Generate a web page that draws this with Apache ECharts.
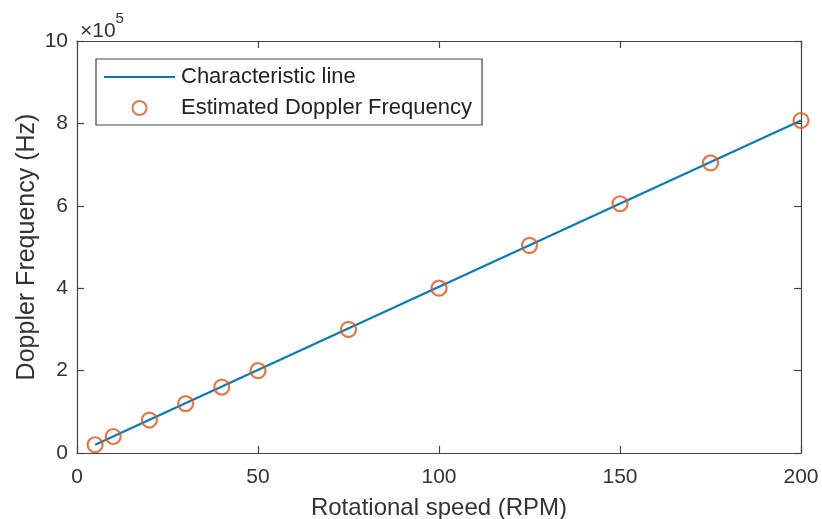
<!DOCTYPE html>
<html><head><meta charset="utf-8">
<script src="https://cdn.jsdelivr.net/npm/echarts@6/dist/echarts.min.js"></script>
<style>html,body{margin:0;padding:0;background:#fff}#c{width:822px;height:519px}</style>
</head><body><div id="c"></div>
<script>
const rpm = [5, 10, 20, 30, 40, 50, 75, 100, 125, 150, 175, 200];
const estimated = [0.2, 0.4, 0.8, 1.2, 1.6, 2.0, 3.0, 4.0, 5.04, 6.05, 7.04, 8.07];
const lineX = [5, 200];
const lineY = [0.2, 8.07];
const xTicks = [0, 50, 100, 150, 200];
const yTicks = [0, 2, 4, 6, 8, 10];

const FONT = '"Liberation Sans", Arial, sans-serif';
const chart = echarts.init(document.getElementById('c'));
const axisCommon = () => ({
  axisLine: {show: true, onZero: false, lineStyle: {color: '#444', width: 1.2}},
  axisTick: {show: true, inside: true, length: 7, lineStyle: {color: '#444', width: 1.2}},
  splitLine: {show: false}
});
const lineColor = '#0B7AB0';
chart.setOption({
  animation: false,
  grid: {left: 77, right: 21, top: 41, bottom: 66, containLabel: false, outerBoundsMode: 'none'},
  legend: {
    orient: 'vertical', left: 96, top: 59,
    padding: [7, 10, 6, 8], itemGap: 9,
    borderColor: '#444', borderWidth: 1.2, backgroundColor: '#fff',
    itemWidth: 71, itemHeight: 14,
    textStyle: {fontFamily: FONT, fontSize: 22, color: '#222', padding: [0, 0, 0, 1]},
    data: [
      {name: 'Characteristic line', icon: 'path://M0,0 L71,0 L71,2.2 L0,2.2 Z', itemStyle: {color: lineColor}},
      {name: 'Estimated Doppler Frequency'}
    ]
  },
  graphic: [{
    type: 'text', left: 80, top: 11,
    style: {
      text: '{a|×10}{b|5}',
      rich: {
        a: {fontFamily: FONT, fontSize: 21, fill: '#333', verticalAlign: 'bottom', padding: [10, 0, 0, 0]},
        b: {fontFamily: FONT, fontSize: 15, fill: '#333', verticalAlign: 'top'}
      }
    }
  }],
  xAxis: [
    Object.assign({
      type: 'value', min: 0, max: 200, interval: 50,
      name: 'Rotational speed (RPM)', nameLocation: 'middle', nameGap: 43,
      nameTextStyle: {fontFamily: FONT, fontSize: 24, color: '#333'},
      axisLabel: {fontFamily: FONT, fontSize: 21, color: '#333', margin: 14,
        formatter: v => xTicks.includes(v) ? String(v) : ''}
    }, axisCommon()),
    Object.assign({
      type: 'value', min: 0, max: 200, interval: 50, position: 'top',
      axisLabel: {show: false}
    }, axisCommon())
  ],
  yAxis: [
    Object.assign({
      type: 'value', min: 0, max: 10, interval: 2,
      name: 'Doppler Frequency (Hz)', nameLocation: 'middle', nameGap: 37,
      nameMoveOverlap: false,
      nameTextStyle: {fontFamily: FONT, fontSize: 25, color: '#333'},
      axisLabel: {fontFamily: FONT, fontSize: 21, color: '#333', margin: 9,
        formatter: v => yTicks.includes(v) ? String(v) : ''}
    }, axisCommon()),
    Object.assign({
      type: 'value', min: 0, max: 10, interval: 2, position: 'right',
      axisLabel: {show: false}
    }, axisCommon())
  ],
  series: [
    {
      name: 'Characteristic line', type: 'line', symbol: 'none',
      data: lineX.map((x, i) => [x, lineY[i]]),
      lineStyle: {color: lineColor, width: 2.2},
      itemStyle: {color: lineColor}
    },
    {
      name: 'Estimated Doppler Frequency', type: 'scatter',
      symbol: 'circle', symbolSize: 15,
      data: rpm.map((x, i) => [x, estimated[i]]),
      itemStyle: {color: 'rgba(0,0,0,0)', borderColor: '#D9561F', borderWidth: 2.2},
      z: 3
    }
  ]
});
</script></body></html>
